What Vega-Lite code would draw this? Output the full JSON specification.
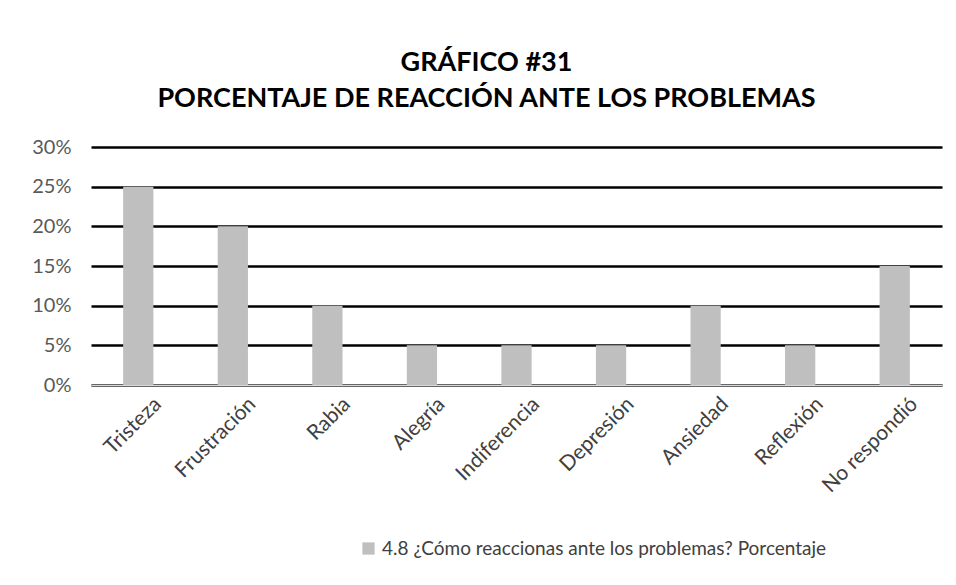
{
  "$schema": "https://vega.github.io/schema/vega-lite/v6.json",
  "autosize": "none",
  "width": 851,
  "height": 238,
  "padding": {"left": 91, "top": 147, "right": 14, "bottom": 200},
  "background": "white",
  "title": {
    "text": ["GRÁFICO #31", "PORCENTAJE DE REACCIÓN ANTE LOS PROBLEMAS"],
    "font": "Lato",
    "fontSize": 27,
    "fontWeight": "bold",
    "color": "#000000",
    "anchor": "middle",
    "dx": -30,
    "offset": 24,
    "lineHeight": 36
  },
  "data": {
    "values": [
      {"categoria": "Tristeza", "porcentaje": 0.25, "serie": "4.8 ¿Cómo reaccionas ante los problemas? Porcentaje"},
      {"categoria": "Frustración", "porcentaje": 0.20, "serie": "4.8 ¿Cómo reaccionas ante los problemas? Porcentaje"},
      {"categoria": "Rabia", "porcentaje": 0.10, "serie": "4.8 ¿Cómo reaccionas ante los problemas? Porcentaje"},
      {"categoria": "Alegría", "porcentaje": 0.05, "serie": "4.8 ¿Cómo reaccionas ante los problemas? Porcentaje"},
      {"categoria": "Indiferencia", "porcentaje": 0.05, "serie": "4.8 ¿Cómo reaccionas ante los problemas? Porcentaje"},
      {"categoria": "Depresión", "porcentaje": 0.05, "serie": "4.8 ¿Cómo reaccionas ante los problemas? Porcentaje"},
      {"categoria": "Ansiedad", "porcentaje": 0.10, "serie": "4.8 ¿Cómo reaccionas ante los problemas? Porcentaje"},
      {"categoria": "Reflexión", "porcentaje": 0.05, "serie": "4.8 ¿Cómo reaccionas ante los problemas? Porcentaje"},
      {"categoria": "No respondió", "porcentaje": 0.15, "serie": "4.8 ¿Cómo reaccionas ante los problemas? Porcentaje"}
    ]
  },
  "mark": {"type": "bar"},
  "encoding": {
    "x": {
      "field": "categoria",
      "type": "nominal",
      "sort": null,
      "title": null,
      "scale": {"paddingInner": 0.68, "paddingOuter": 0.34},
      "axis": {
        "labelAngle": -45,
        "labelFont": "Lato",
        "labelFontSize": 21,
        "labelColor": "#404040",
        "ticks": false,
        "domain": true,
        "domainColor": "#D9D9D9",
        "domainWidth": 1.5,
        "labelPadding": 8,
        "labelOffset": 12,
        "labelLimit": 300,
        "grid": false
      }
    },
    "y": {
      "field": "porcentaje",
      "type": "quantitative",
      "title": null,
      "scale": {"domain": [0, 0.3]},
      "axis": {
        "values": [0, 0.05, 0.1, 0.15, 0.2, 0.25, 0.3],
        "format": ".0%",
        "labelFont": "Lato",
        "labelFontSize": 20,
        "labelColor": "#595959",
        "ticks": false,
        "domain": false,
        "grid": true,
        "gridColor": "#000000",
        "gridWidth": 2.5,
        "labelPadding": 20,
        "zindex": 0
      }
    },
    "color": {
      "field": "serie",
      "type": "nominal",
      "scale": {"range": ["#BFBFBF"]},
      "legend": {
        "title": null,
        "orient": "none",
        "legendX": 268,
        "legendY": 392,
        "symbolType": "square",
        "symbolSize": 150,
        "labelFont": "Lato",
        "labelFontSize": 19,
        "labelColor": "#404040",
        "labelLimit": 600
      }
    }
  },
  "config": {
    "view": {"stroke": null}
  }
}
